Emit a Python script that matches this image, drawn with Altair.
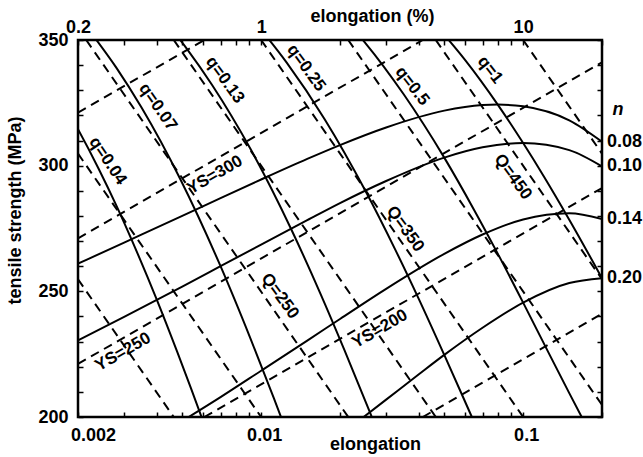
import altair as alt
import pandas as pd

# ---------------- axis ticks / labels ----------------
X_TICKS = [0.002, 0.003, 0.004, 0.005, 0.006, 0.007, 0.008, 0.009,
           0.01, 0.02, 0.03, 0.04, 0.05, 0.06, 0.07, 0.08, 0.09, 0.1, 0.2]
X_LABEL_VALUES = [0.002, 0.01, 0.1]
X_LABELS = ["0.002", "0.01", "0.1"]          # bottom axis (elongation)
TOP_LABELS = ["0.2", "1", "10"]              # top axis (elongation %)
Y_TICKS = list(range(200, 351, 10))
Y_LABEL_VALUES = [200, 250, 300, 350]

# ---------------- iso-n curves (solid) ----------------
N_NAMES = ["0.08", "0.10", "0.14", "0.20"]
N_EPS = [
    [0.002, 0.003, 0.005, 0.007, 0.01, 0.015, 0.02, 0.03, 0.05, 0.07, 0.08, 0.1, 0.15, 0.2],
    [0.002, 0.003, 0.005, 0.007, 0.01, 0.015, 0.02, 0.03, 0.05, 0.07, 0.1, 0.15, 0.2],
    [0.005, 0.007, 0.01, 0.015, 0.02, 0.03, 0.05, 0.07, 0.1, 0.15, 0.2],
    [0.024, 0.03, 0.04, 0.05, 0.07, 0.1, 0.15, 0.2],
]
N_MPA = [
    [261.0, 269.4, 280.0, 287.1, 294.5, 302.7, 308.2, 315.2, 321.9, 324.1, 324.3, 323.6, 318.0, 309.5],
    [230.5, 239.8, 251.9, 260.0, 268.6, 278.3, 285.1, 293.9, 303.2, 307.3, 309.0, 306.2, 299.7],
    [198.4, 207.9, 218.4, 230.4, 239.0, 251.0, 264.9, 272.6, 278.6, 281.1, 278.8],
    [199.1, 206.9, 217.0, 224.7, 235.5, 245.5, 253.3, 255.2],
]

# ---------------- iso-q curves (solid) ----------------
QS_NAMES = ["0.04", "0.07", "0.13", "0.25", "0.5", "1"]
QS_EPS = [
    [0.0018, 0.002, 0.0024, 0.0028, 0.0034, 0.004, 0.0048, 0.0054, 0.006],
    [0.00231, 0.0028, 0.0035, 0.0049, 0.007, 0.0091, 0.0112, 0.01225],
    [0.00455, 0.0052, 0.0065, 0.0091, 0.013, 0.0169, 0.0208, 0.026, 0.0273],
    [0.01, 0.0125, 0.0175, 0.025, 0.0325, 0.04, 0.05, 0.0625, 0.065],
    [0.0225, 0.025, 0.035, 0.05, 0.065, 0.08, 0.1, 0.125, 0.15, 0.175],
    [0.05, 0.06, 0.08, 0.1, 0.12, 0.15, 0.2, 0.22],
]
QS_MPA = [
    [323.0, 314.5, 298.7, 284.2, 264.3, 246.6, 225.5, 211.4, 198.4],
    [351.1, 339.0, 323.0, 294.9, 260.0, 231.3, 207.3, 196.6],
    [354.4, 346.6, 332.1, 306.7, 274.9, 248.7, 226.6, 201.9, 196.4],
    [354.1, 341.1, 318.4, 290.0, 266.6, 246.9, 224.7, 202.0, 198.0],
    [354.4, 348.8, 328.4, 303.2, 282.4, 265.0, 245.5, 225.6, 209.5, 196.1],
    [352.1, 342.1, 324.3, 309.0, 295.7, 278.5, 255.2, 247.3],
]

# ---------------- iso-Q lines (dashed, straight) ----------------
QL_NAMES = ["150", "200", "250", "300", "350", "400", "450", "500"]
QL_EPS = [[0.002, 0.00464], [0.002, 0.01], [0.00215, 0.0215], [0.00464, 0.0464],
          [0.01, 0.1], [0.0215, 0.2], [0.0464, 0.2], [0.1, 0.2]]
QL_MPA = [[254.8, 200.0], [304.8, 200.0], [350.0, 200.0], [350.0, 200.0],
          [350.0, 200.0], [350.0, 204.8], [350.0, 254.8], [350.0, 304.8]]

# ---------------- iso-YS lines (dashed, straight) ----------------
YS_NAMES = ["150", "200", "250", "300", "350"]
YS_EPS = [[0.0414, 0.2], [0.00607, 0.2], [0.002, 0.2], [0.002, 0.0414], [0.002, 0.00607]]
YS_MPA = [[200.0, 241.1], [200.0, 291.1], [221.1, 341.1], [271.1, 350.0], [321.1, 350.0]]

# ---------------- in-plot labels ----------------
LABEL_TEXT = ["q=0.04", "q=0.07", "q=0.13", "q=0.25", "q=0.5", "q=1",
              "Q=250", "Q=350", "Q=450", "YS=250", "YS=300", "YS=200"]
LABEL_EPS = [0.0026, 0.00404, 0.00728, 0.01486, 0.0377, 0.0748,
             0.0118, 0.0355, 0.0914, 0.00297, 0.00666, 0.0284]
LABEL_MPA = [301.9, 323.3, 334.1, 338.9, 331.7, 338.1,
             248.1, 274.8, 295.5, 225.9, 296.3, 235.0]
LABEL_ANGLE = [56, 55, 54, 54, 52, 52, 54, 54, 54, 330, 330, 330]

N_SYMBOL = "n"
N_SYMBOL_MPA = 322.0


def long_table(names, eps_lists, mpa_lists, prefix):
    rows = []
    for name, eps, mpa in zip(names, eps_lists, mpa_lists):
        for i, (e, m) in enumerate(zip(eps, mpa)):
            rows.append({"curve": prefix + name, "eps": e, "mpa": m, "order": i})
    return pd.DataFrame(rows)


n_df = long_table(N_NAMES, N_EPS, N_MPA, "n")
qs_df = long_table(QS_NAMES, QS_EPS, QS_MPA, "q")
ql_df = long_table(QL_NAMES, QL_EPS, QL_MPA, "Q")
ys_df = long_table(YS_NAMES, YS_EPS, YS_MPA, "YS")
lab_df = pd.DataFrame({"text": LABEL_TEXT, "eps": LABEL_EPS, "mpa": LABEL_MPA, "angle": LABEL_ANGLE})
right_df = pd.DataFrame({"text": N_NAMES, "eps": [e[-1] for e in N_EPS], "mpa": [m[-1] for m in N_MPA]})
nsym_df = pd.DataFrame({"text": [N_SYMBOL], "eps": [N_EPS[0][-1]], "mpa": [N_SYMBOL_MPA]})

FONT = "Liberation Sans"

x_scale = alt.Scale(type="log", domain=[X_TICKS[0], X_TICKS[-1]], nice=False)
y_scale = alt.Scale(domain=[Y_TICKS[0], Y_TICKS[-1]], nice=False, zero=False)


def label_expr(values, labels):
    expr = "''"
    for v, l in zip(reversed(values), reversed(labels)):
        expr = f"datum.value == {v} ? '{l}' : ({expr})"
    return expr


common = dict(offset=-5, tickSize=5, tickWidth=1.5, tickColor="black", domain=False, grid=False,
              labelFont=FONT, labelFontWeight="bold", labelFontSize=18, labelColor="black",
              labelOverlap=False, labelFlush=False, labelBound=False,
              titleFont=FONT, titleFontWeight="bold", titleFontSize=18, titleColor="black")

axis_bottom = alt.Axis(orient="bottom", values=X_TICKS, labelExpr=label_expr(X_LABEL_VALUES, X_LABELS),
                       labelPadding=9, labelOffset={"condition": {"test": "datum.value == 0.002", "value": 15}, "value": 3},
                       title="elongation", titleX=297, titleY=37, titleAlign="center", titleBaseline="alphabetic",
                       **common)
axis_top = alt.Axis(orient="top", values=X_TICKS, labelExpr=label_expr(X_LABEL_VALUES, TOP_LABELS),
                    labelPadding=4, title="elongation (%)", titleX=294, titleY=-24, titleAlign="center",
                    titleBaseline="alphabetic", **common)
axis_left = alt.Axis(orient="left", values=Y_TICKS, labelExpr=label_expr(Y_LABEL_VALUES, [str(v) for v in Y_LABEL_VALUES]),
                     labelPadding=10, title="tensile strength (MPa)", titleX=-63, titleY=170, titleAngle=270,
                     titleAlign="center", titleBaseline="alphabetic", **common)
axis_right = alt.Axis(orient="right", values=Y_TICKS, labels=False, title="", **common)

LINE = dict(clip=True, color="black", strokeWidth=2, interpolate="monotone")
DASH = dict(clip=True, color="black", strokeWidth=2, strokeDash=[9, 6])

n_layer = alt.Chart(n_df).mark_line(**LINE).encode(
    x=alt.X("eps:Q", scale=x_scale, axis=axis_bottom),
    y=alt.Y("mpa:Q", scale=y_scale, axis=axis_left),
    detail="curve:N", order="order:Q")

qs_layer = alt.Chart(qs_df).mark_line(**LINE).encode(
    x=alt.X("eps:Q", scale=x_scale, axis=axis_top),
    y=alt.Y("mpa:Q", scale=y_scale, axis=axis_right),
    detail="curve:N", order="order:Q")

ql_layer = alt.Chart(ql_df).mark_line(**DASH).encode(
    x=alt.X("eps:Q", scale=x_scale, axis=None),
    y=alt.Y("mpa:Q", scale=y_scale, axis=None),
    detail="curve:N", order="order:Q")

ys_layer = alt.Chart(ys_df).mark_line(**DASH).encode(
    x=alt.X("eps:Q", scale=x_scale, axis=None),
    y=alt.Y("mpa:Q", scale=y_scale, axis=None),
    detail="curve:N", order="order:Q")

lab_layer = alt.Chart(lab_df).mark_text(font=FONT, fontWeight="bold", fontSize=17, color="black",
                                        align="center", baseline="middle").encode(
    x=alt.X("eps:Q", scale=x_scale, axis=None),
    y=alt.Y("mpa:Q", scale=y_scale, axis=None),
    text="text:N", angle=alt.Angle("angle:Q", scale=None))

right_layer = alt.Chart(right_df).mark_text(font=FONT, fontWeight="bold", fontSize=18, color="black",
                                            align="left", baseline="middle", dx=5).encode(
    x=alt.X("eps:Q", scale=x_scale, axis=None),
    y=alt.Y("mpa:Q", scale=y_scale, axis=None),
    text="text:N")

nsym_layer = alt.Chart(nsym_df).mark_text(font=FONT, fontWeight="bold", fontStyle="italic", fontSize=18,
                                          color="black", align="center", baseline="middle", dx=16).encode(
    x=alt.X("eps:Q", scale=x_scale, axis=None),
    y=alt.Y("mpa:Q", scale=y_scale, axis=None),
    text="text:N")

chart = alt.layer(n_layer, qs_layer, ql_layer, ys_layer, lab_layer, right_layer, nsym_layer).resolve_axis(
    x="independent", y="independent"
).properties(
    width=524, height=377,
    autosize=alt.AutoSizeParams(type="none"),
    padding={"left": 78, "top": 40, "right": 41, "bottom": 40},
    background="white",
).configure_view(stroke="black", strokeWidth=2.5)

chart.save("out.html", embed_options={"renderer": "svg", "actions": False})
